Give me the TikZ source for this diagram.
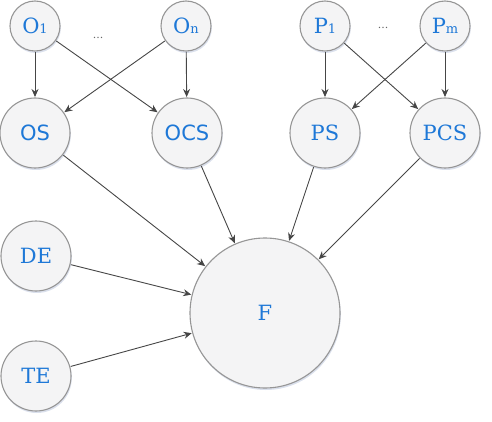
\documentclass[tikz,border=0pt]{standalone}
\usepackage{fontspec}
\setmainfont{DejaVu Serif}
\newfontfamily\sansf{DejaVu Sans}
\usetikzlibrary{arrows.meta,shadows}
\definecolor{txtblue}{RGB}{30,120,215}
\definecolor{fillg}{RGB}{244,244,245}
\definecolor{edgeg}{RGB}{150,150,150}
\definecolor{lineg}{RGB}{70,70,70}
\definecolor{shadowc}{RGB}{150,165,200}
\tikzset{
  circ/.style={circle, draw=edgeg, line width=1.1pt, fill=fillg, text=txtblue,
    inner sep=0pt, outer sep=1pt,
    drop shadow={shadow xshift=0.8pt, shadow yshift=-2pt, fill=shadowc, opacity=0.35},
    font=\fontsize{21}{21}\selectfont},
  small/.style={circ, minimum size=50pt},
  mid/.style={circ, minimum size=70pt},
  big/.style={circ, minimum size=150pt},
  arr/.style={-{Stealth[length=8pt,width=7pt]}, draw=lineg, line width=0.9pt},
  dots/.style={text=black!60, font=\fontsize{11}{11}\selectfont, inner sep=0pt}
}
\newcommand{\sbs}[1]{{\fontsize{13}{13}\selectfont #1}}
\begin{document}
\begin{tikzpicture}[x=1pt,y=-1pt]
\useasboundingbox (0,0) rectangle (492,422);
\node[small] (o1) at (35,26) {O\sbs{1}};
\node[small] (on) at (186,26) {O\sbs{n}};
\node[small] (p1) at (325,26) {P\sbs{1}};
\node[small] (pm) at (445,26) {P\sbs{m}};
\node[dots] (d1) at (98,38) {...};
\node[dots] (d2) at (383,28) {...};
\node[mid, font=\sansf\fontsize{21}{21}\selectfont] (os) at (35,133) {OS};
\node[mid, font=\sansf\fontsize{21}{21}\selectfont] (ocs) at (187,133) {OCS};
\node[mid] (ps) at (325,133) {PS};
\node[mid] (pcs) at (445,133) {PCS};
\node[mid] (de) at (36,256) {DE};
\node[mid] (te) at (36,376) {TE};
\node[big] (f) at (265,313) {F};
\draw[arr] (o1) -- (os);
\draw[arr] (o1) -- (ocs);
\draw[arr] (on) -- (os);
\draw[arr] (on) -- (ocs);
\draw[arr] (p1) -- (ps);
\draw[arr] (p1) -- (pcs);
\draw[arr] (pm) -- (ps);
\draw[arr] (pm) -- (pcs);
\draw[arr] (os) -- (f);
\draw[arr] (ocs) -- (f);
\draw[arr] (ps) -- (f);
\draw[arr] (pcs) -- (f);
\draw[arr] (de) -- (f);
\draw[arr] (te) -- (f);
\end{tikzpicture}
\end{document}
